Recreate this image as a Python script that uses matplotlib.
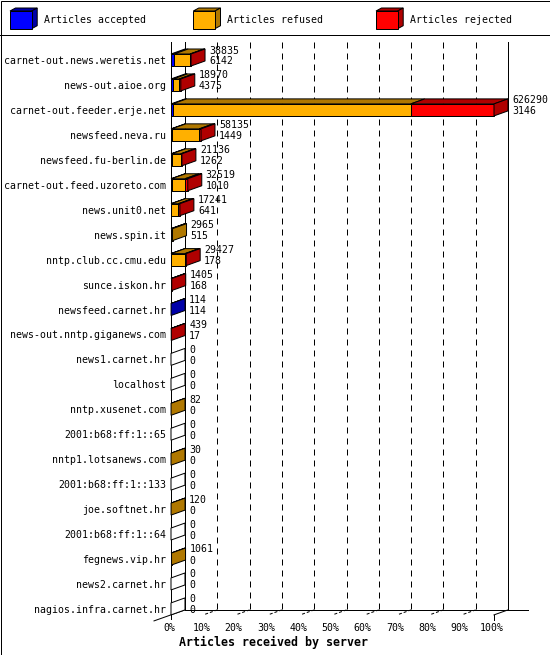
import matplotlib
matplotlib.use('Agg')
import matplotlib.pyplot as plt
from matplotlib.patches import Rectangle, Polygon

plt.rcParams['font.family'] = ['DejaVu Sans Mono']

servers = ['carnet-out.news.weretis.net', 'news-out.aioe.org', 'carnet-out.feeder.erje.net',
           'newsfeed.neva.ru', 'newsfeed.fu-berlin.de', 'carnet-out.feed.uzoreto.com',
           'news.unit0.net', 'news.spin.it', 'nntp.club.cc.cmu.edu', 'sunce.iskon.hr',
           'newsfeed.carnet.hr', 'news-out.nntp.giganews.com', 'news1.carnet.hr', 'localhost',
           'nntp.xusenet.com', '2001:b68:ff:1::65', 'nntp1.lotsanews.com', '2001:b68:ff:1::133',
           'joe.softnet.hr', '2001:b68:ff:1::64', 'fegnews.vip.hr', 'news2.carnet.hr',
           'nagios.infra.carnet.hr']
accepted = [6142, 4375, 3146, 1449, 1262, 1010, 641, 515, 178, 168, 114, 17,
            0, 0, 0, 0, 0, 0, 0, 0, 0, 0, 0]
refused = [30700, 11719, 461754, 53425, 17546, 26135, 13514, 2450, 26967, 0, 0, 0,
           0, 0, 82, 0, 30, 0, 120, 0, 1061, 0, 0]
rejected = [1993, 2876, 161390, 3261, 2328, 5374, 3086, 0, 2282, 1237, 0, 422,
            0, 0, 0, 0, 0, 0, 0, 0, 0, 0, 0]
label_top = [38835, 18970, 626290, 58135, 21136, 32519, 17241, 2965, 29427, 1405, 114, 439,
             0, 0, 82, 0, 30, 0, 120, 0, 1061, 0, 0]
label_bottom = [6142, 4375, 3146, 1449, 1262, 1010, 641, 515, 178, 168, 114, 17,
                0, 0, 0, 0, 0, 0, 0, 0, 0, 0, 0]
series = ['Articles accepted', 'Articles refused', 'Articles rejected']
ticks = [0, 10, 20, 30, 40, 50, 60, 70, 80, 90, 100]

front_col = ['#0000ff', '#ffb000', '#ff0000']
dark_col = ['#0000a8', '#b07800', '#b00000']

W, Hpx = 550, 655
X0, PXP = 171.0, 3.23      # pixel of 0 %, pixels per percent
Y0, ROW = 60.0, 24.95      # pixel of first row, pixels per row
LW = 0.72

fig = plt.figure(figsize=(5.5, 6.55), dpi=100)
fig.patch.set_facecolor('white')

# pixel-space layer for frame and legend
deco = fig.add_axes([0, 0, 1, 1])
deco.set_xlim(0, W)
deco.set_ylim(Hpx, 0)
deco.axis('off')

# data layer: x in percent of the largest server, y in rows
ax = fig.add_axes([0, 0, 1, 1])
ax.set_xlim(-X0 / PXP, (W - X0) / PXP)
ax.set_ylim((Hpx - Y0) / ROW, -Y0 / ROW)
ax.axis('off')
ax.patch.set_alpha(0)

dx = 14 / PXP
dy = 5 / ROW
h = 6 / ROW
n = len(servers)
top_y = (42 - Y0) / ROW
front_floor = (n - 1) + h
back_floor = front_floor - dy

# outer border and legend separator
deco.add_patch(Rectangle((0.5, 0.5), W - 1, Hpx - 1, fill=False, lw=LW, ec='black'))
deco.plot([0, W], [34.5, 34.5], color='black', lw=LW)

# legend
for k, (lx, name) in enumerate(zip([10, 193.3, 376], series)):
    fw, fh, ddx, ddy = 21.7, 17.7, 5.5, 3
    deco.add_patch(Polygon([(lx, 11), (lx + fw, 11), (lx + fw + ddx, 11 - ddy), (lx + ddx, 11 - ddy)],
                           fc=dark_col[k], ec='black', lw=LW))
    deco.add_patch(Polygon([(lx + fw, 11), (lx + fw + ddx, 11 - ddy), (lx + fw + ddx, 11 + fh - ddy),
                            (lx + fw, 11 + fh)], fc=dark_col[k], ec='black', lw=LW))
    deco.add_patch(Rectangle((lx, 11), fw, fh, fc=front_col[k], ec='black', lw=LW))
    deco.text(lx + 34, 20, name, fontsize=7.1, va='center', ha='left')

# walls and grid
ax.plot([0, 0], [top_y, front_floor + 4 / ROW], color='black', lw=LW, zorder=1)
ax.plot([dx, dx], [top_y, back_floor], color='black', lw=LW, zorder=1)
ax.plot([100 + dx, 100 + dx], [top_y, back_floor], color='black', lw=LW, zorder=1)
ax.plot([dx, 100 + dx + 20 / PXP], [back_floor, back_floor], color='black', lw=LW, zorder=1)
ax.plot([-17 / PXP, dx], [front_floor + 6 / ROW, back_floor], color='black', lw=LW, zorder=1)
ax.plot([100, 100 + dx], [front_floor, back_floor], color='black', lw=LW, zorder=1)
ax.plot([100, 100], [front_floor, front_floor + 5 / ROW], color='black', lw=LW, zorder=1)
for t in ticks[1:-1]:
    ax.plot([t + dx, t + dx], [top_y, back_floor], color='black', lw=LW,
            linestyle=(0, (6, 5)), zorder=1)
    ax.plot([t, t + dx], [front_floor, back_floor], color='black', lw=LW,
            linestyle=(3, (3, 2)), zorder=1)
for t in ticks:
    ax.text(t - 2 / PXP, (628 - Y0) / ROW, '%d%%' % t, fontsize=7.1, ha='center', va='center')
ax.text((179 - X0) / PXP, (642 - Y0) / ROW, 'Articles received by server', fontsize=8.4,
        fontweight='bold', ha='left', va='center')

# bars
total_max = max(a + r + j for a, r, j in zip(accepted, refused, rejected))
for i in range(n):
    vals = [accepted[i], refused[i], rejected[i]]
    left = 0.0
    side = 'white'
    for k, v in enumerate(vals):
        if v <= 0:
            continue
        w = v / total_max * 100
        ax.add_patch(Polygon([(left, i - h), (left + w, i - h), (left + w + dx, i - h - dy),
                              (left + dx, i - h - dy)], fc=dark_col[k], ec='black', lw=LW, zorder=3))
        ax.add_patch(Rectangle((left, i - h), w, 2 * h, fc=front_col[k], ec='black', lw=LW, zorder=3))
        left += w
        side = dark_col[k]
    ax.add_patch(Polygon([(left, i - h), (left + dx, i - h - dy), (left + dx, i + h - dy),
                          (left, i + h)], fc=side, ec='black', lw=LW, zorder=4))
    tx = left + dx + 4 / PXP
    ax.text(tx, i - 9.5 / ROW, str(label_top[i]), fontsize=7.1, ha='left', va='center', zorder=5)
    ax.text(tx, i + 1.5 / ROW, str(label_bottom[i]), fontsize=7.1, ha='left', va='center', zorder=5)
    ax.text(-5 / PXP, i + 1 / ROW, servers[i], fontsize=7.1, ha='right', va='center')

plt.savefig('out.png', dpi=100)
